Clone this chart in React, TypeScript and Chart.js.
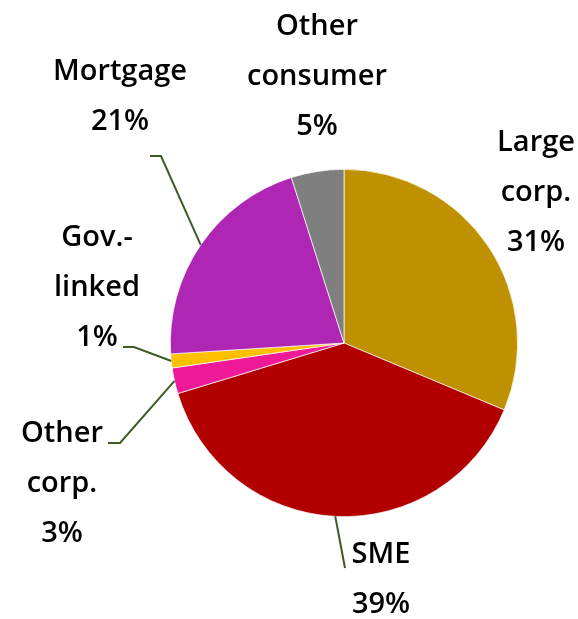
import React, { useEffect, useRef } from "react";
import { Chart, registerables } from "chart.js";

Chart.register(...registerables);

const categories = ["Large corp.", "SME", "Other corp.", "Gov.-linked", "Mortgage", "Other consumer"];
const values = [31.3, 39.0, 2.4, 1.3, 21.1, 4.9];
const percentLabels = ["31%", "39%", "3%", "1%", "21%", "5%"];
const labelLines = [["Large", "corp.", "31%"], ["SME", "39%"], ["Other", "corp.", "3%"], ["Gov.-", "linked", "1%"], ["Mortgage", "21%"], ["Other", "consumer", "5%"]];
const colors = ["#BF9000", "#B20000", "#EE1A98", "#FFC000", "#AF26B4", "#7F7F7F"];

// label block centers, offsets from pie centre in px
const labelPos: [number, number][] = [[192, -150], [37, 237], [-282, 141], [-247, -55], [-224, -246], [-27, -266]];
// leader lines: [start, elbow] offsets from pie centre, null = no leader
const leaders: ([number, number][] | null)[] = [null, [[1, 225], [1, 225]], [[-236, 100], [-224, 100]], [[-221, 4], [-210, 4]], [[-194, -187], [-183, -187]], null];

const FONT = '600 29px "Open Sans", sans-serif';

const labelPlugin = {
  id: "customLabels",
  afterDraw(chart: any) {
    const ctx = chart.ctx;
    const meta = chart.getDatasetMeta(0);
    ctx.save();
    meta.data.forEach((arc: any, i: number) => {
      const { x, y, startAngle, endAngle, outerRadius } = arc.getProps(["x", "y", "startAngle", "endAngle", "outerRadius"], true);
      const mid = (startAngle + endAngle) / 2;
      const ld = leaders[i];
      if (ld) {
        const ex = x + Math.cos(mid) * outerRadius;
        const ey = y + Math.sin(mid) * outerRadius;
        ctx.beginPath();
        ctx.strokeStyle = "#3E5B24";
        ctx.lineWidth = 2;
        ctx.moveTo(x + ld[0][0], y + ld[0][1]);
        ctx.lineTo(x + ld[1][0], y + ld[1][1]);
        ctx.lineTo(ex, ey);
        ctx.stroke();
      }
      const lines = labelLines[i];
      const lh = 50;
      const cx = x + labelPos[i][0];
      const cy = y + labelPos[i][1];
      ctx.font = FONT;
      ctx.fillStyle = "#000";
      ctx.textAlign = "center";
      ctx.textBaseline = "middle";
      lines.forEach((t, k) => {
        ctx.fillText(t, cx, cy + (k - (lines.length - 1) / 2) * lh);
      });
    });
    ctx.restore();
  },
};

export default function App() {
  const ref = useRef<HTMLCanvasElement>(null);
  useEffect(() => {
    if (!ref.current) return;
    const chart = new Chart(ref.current, {
      type: "pie",
      data: {
        labels: categories,
        datasets: [{ data: values, backgroundColor: colors, borderColor: "#ffffff", borderWidth: 0.7 }],
      },
      options: {
        animation: false,
        responsive: false,
        layout: { padding: { left: 170, right: 60, top: 169, bottom: 102 } },
        plugins: { legend: { display: false }, tooltip: { enabled: false } },
      },
      plugins: [labelPlugin],
    });
    return () => chart.destroy();
  }, []);
  return (
    <div style={{ position: "fixed", left: 0, top: 0, width: 578, height: 619, background: "#fff" }}>
      <canvas ref={ref} width={578} height={619} style={{ display: "block" }} />
    </div>
  );
}
